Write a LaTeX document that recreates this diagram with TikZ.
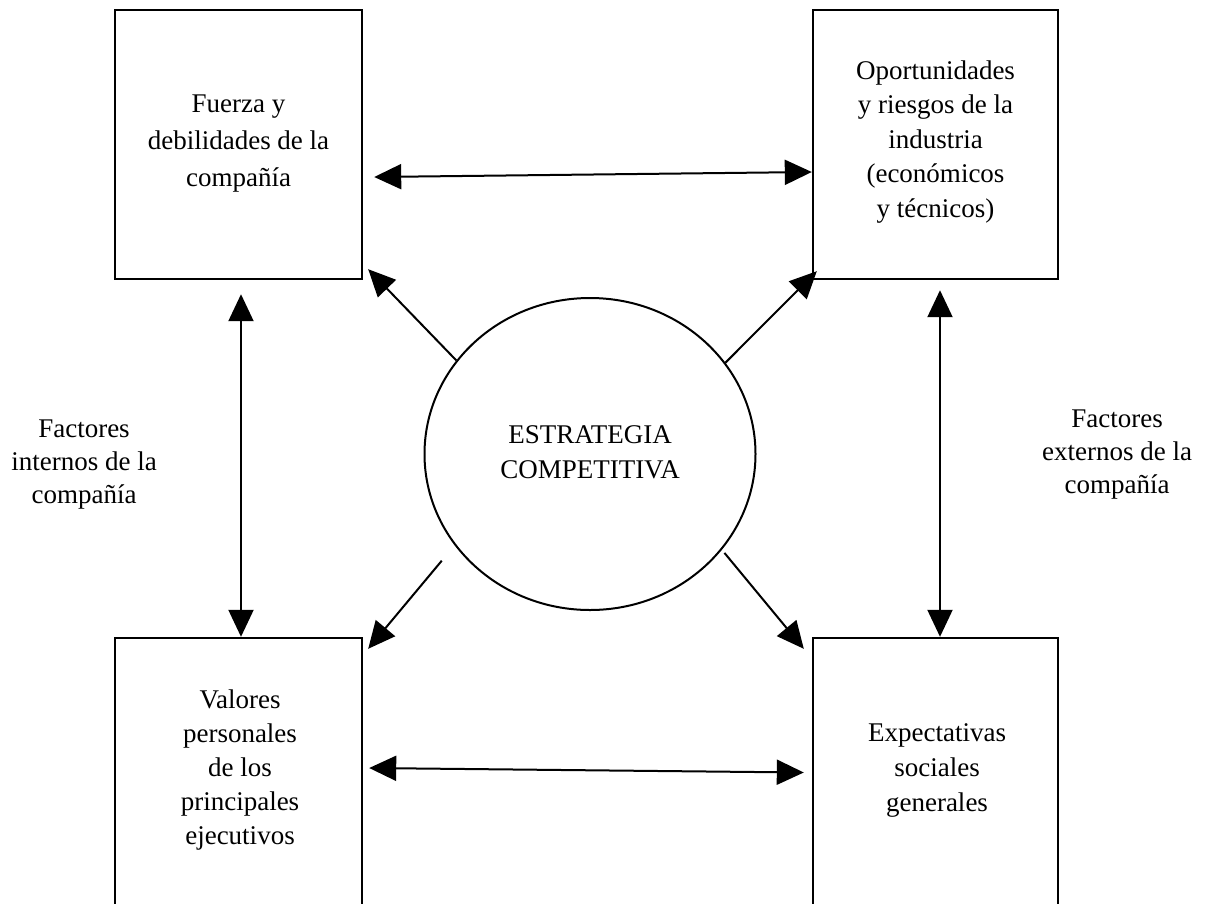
\documentclass[tikz,border=0pt]{standalone}
\usepackage{fontspec}
\setmainfont{Liberation Serif}
\usetikzlibrary{arrows.meta,shapes.geometric,calc}

\tikzset{
  factorbox/.style={draw, line width=2.4pt, rectangle, inner sep=0pt,
    minimum width=247pt, minimum height=269pt},
  boxtext/.style={align=center, inner sep=0pt,
    font=\fontsize{27}{35}\selectfont},
  core/.style={draw, line width=2pt, ellipse, inner sep=0pt,
    minimum width=331pt, minimum height=312pt},
  sidelabel/.style={align=center, inner sep=0pt,
    font=\fontsize{27}{33}\selectfont},
  link/.style={line width=2pt, -{Triangle[length=27pt,width=25pt]}},
  duplex/.style={line width=2pt, {Triangle[length=27pt,width=25pt]}-{Triangle[length=27pt,width=25pt]}}
}

\begin{document}
\begin{tikzpicture}[x=1pt,y=-1pt]
  \useasboundingbox (0,0) rectangle (1205,903);
  \clip (0,0) rectangle (1205,903);

  % the four factor boxes
  \node[factorbox] (tl) at (238.5,144.5) {};
  \node[factorbox, minimum width=245pt] (tr) at (935.5,144.5) {};
  \node[factorbox] (bl) at (238.5,772.5) {};
  \node[factorbox, minimum width=245pt] (br) at (935.5,772.5) {};

  % their texts
  \node[boxtext, font=\fontsize{27}{37}\selectfont] (tlt) at ($(tl.center)+(0,-1)$)
    {Fuerza y\\debilidades de la\\compañía};
  \node[boxtext, font=\fontsize{27}{34.5}\selectfont] (trt) at ($(tr.center)+(0,-2.5)$)
    {Oportunidades\\y riesgos de la\\industria\\(económicos\\y técnicos)};
  \node[boxtext, font=\fontsize{27}{34}\selectfont] (blt) at ($(bl.center)+(1.5,-2.5)$)
    {Valores\\personales\\de los\\principales\\ejecutivos};
  \node[boxtext] (brt) at ($(br.center)+(1.5,-2.5)$)
    {Expectativas\\sociales\\generales};

  % central strategy
  \node[core] (core) at (590,454) {};
  \node[boxtext] (coret) at ($(core.center)+(0,-1.5)$) {ESTRATEGIA\\COMPETITIVA};

  % side labels
  \node[sidelabel] (intl) at (84,465) {Factores\\internos de la\\compañía};
  \node[sidelabel] (extl) at (1117,455) {Factores\\externos de la\\compañía};

  % connections between boxes
  \draw[duplex] ($(tl.east)+(11,32.5)$) -- ($(tr.west)+(0,27.5)$);
  \draw[duplex] ($(bl.east)+(6,-4.5)$) -- ($(br.west)+(-8,0)$);
  \draw[duplex] ($(tl.south)+(2.5,14)$) -- ($(bl.north)+(2.5,0)$);
  \draw[duplex] ($(tr.south)+(4.5,10)$) -- ($(br.north)+(4.5,0)$);

  % strategy pointing to each factor
  \draw[link] (core.145.2) -- ($(tl.south east)+(5,-11)$);
  \draw[link] (core.34.5) -- ($(tr.south west)+(5,-9)$);
  \draw[link, shorten <=20pt] (core.214.7) -- ($(bl.north east)+(5,12)$);
  \draw[link, shorten <=4pt] (core.-36.3) -- ($(br.north west)+(-8,12)$);
\end{tikzpicture}
\end{document}
